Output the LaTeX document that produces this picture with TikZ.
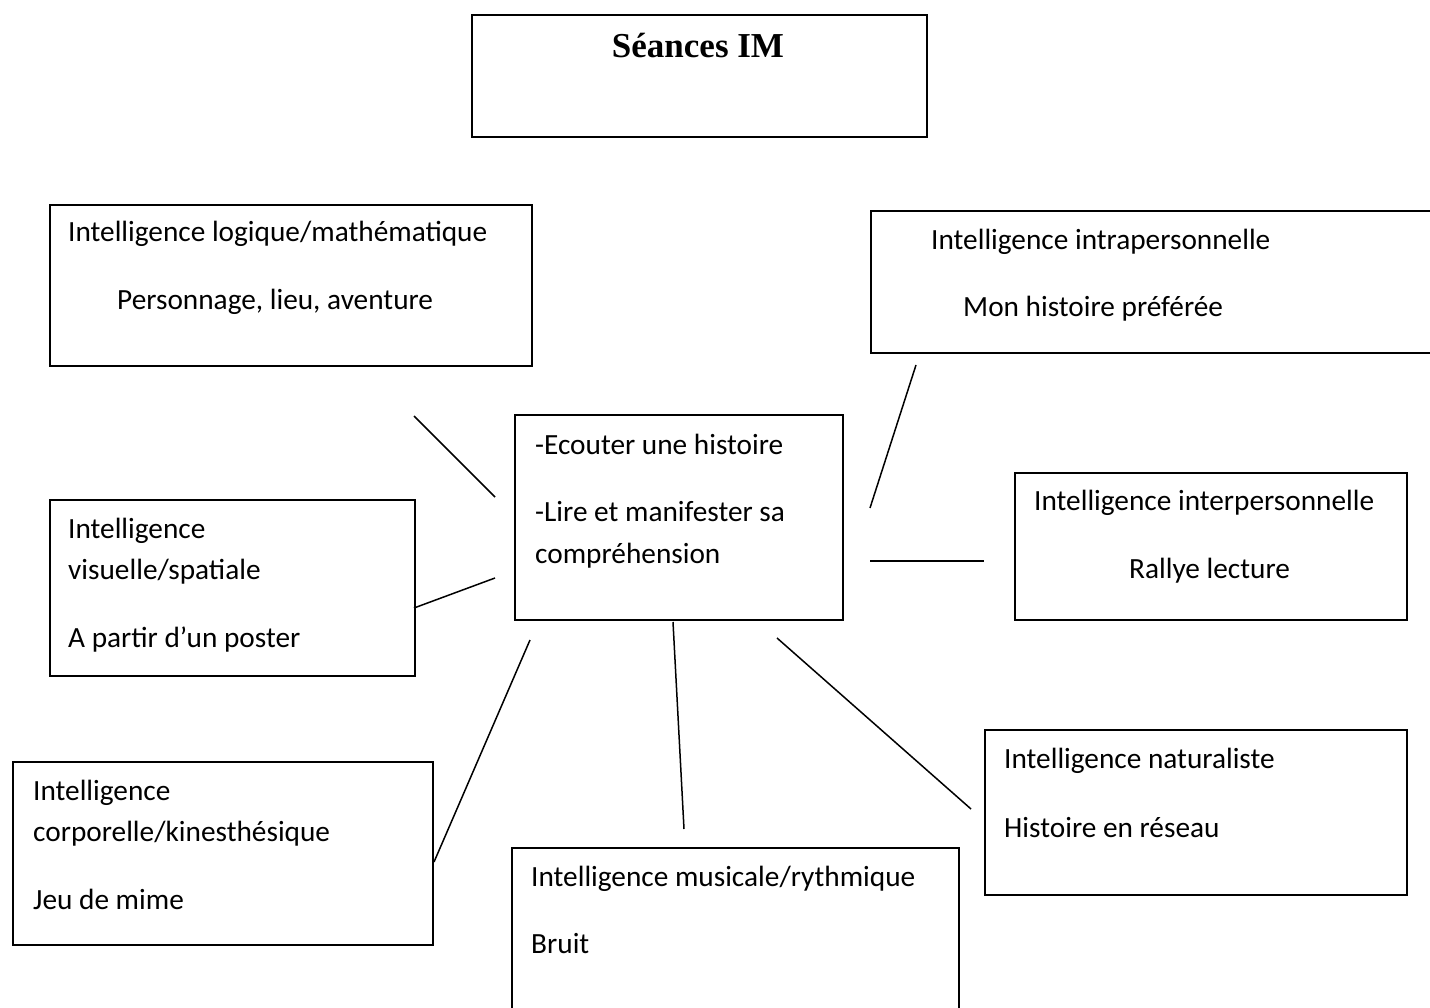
\documentclass[tikz,border=0pt]{standalone}
\usepackage{fontspec}
\setmainfont{Carlito}
\newfontfamily\titlefont{Liberation Serif}
\begin{document}
\begin{tikzpicture}[x=1pt,y=-1pt,
  box/.style={draw=black,line width=1.6pt,rectangle,inner sep=0pt,anchor=north west},
  txt/.style={inner sep=0pt,anchor=base west,font=\fontsize{29.3}{35}\selectfont},
  link/.style={draw=black,line width=1.5pt}]
\useasboundingbox (0,0) rectangle (1430,1008);
\clip (0,0) rectangle (1430,1008);
\fill[white] (0,0) rectangle (1430,1008);
% title
\node[box,minimum width=455,minimum height=122] (title) at (471,14) {};
\node[inner sep=0pt,anchor=base,font=\titlefont\bfseries\fontsize{35}{42}\selectfont] (titletxt) at (698,58) {Séances IM};
% logique
\node[box,minimum width=482,minimum height=161] (logique) at (49,204) {};
\node[txt] (logique1) at (68,242) {Intelligence logique/mathématique};
\node[txt] (logique2) at (117,310) {Personnage, lieu, aventure};
% intrapersonnelle
\node[box,minimum width=580,minimum height=142] (intra) at (870,210) {};
\node[txt] (intra1) at (931,250) {Intelligence intrapersonnelle};
\node[txt] (intra2) at (963,317) {Mon histoire préférée};
% center
\node[box,minimum width=328,minimum height=205] (center) at (514,414) {};
\node[txt] (center1) at (535,454) {-Ecouter une histoire};
\node[txt] (center2) at (535,521) {-Lire et manifester sa};
\node[txt] (center3) at (535,563) {compréhension};
% visuelle
\node[box,minimum width=365,minimum height=176] (visuelle) at (49,499) {};
\node[txt] (visuelle1) at (68,538) {Intelligence};
\node[txt] (visuelle2) at (68,579) {visuelle/spatiale};
\node[txt] (visuelle3) at (68,647) {A partir d’un poster};
% interpersonnelle
\node[box,minimum width=392,minimum height=147] (inter) at (1014,472) {};
\node[txt] (inter1) at (1034,510) {Intelligence interpersonnelle};
\node[txt] (inter2) at (1129,578) {Rallye lecture};
% corporelle
\node[box,minimum width=420,minimum height=183] (corpo) at (12,761) {};
\node[txt] (corpo1) at (33,800) {Intelligence};
\node[txt] (corpo2) at (33,841) {corporelle/kinesthésique};
\node[txt] (corpo3) at (33,909) {Jeu de mime};
% musicale
\node[box,minimum width=447,minimum height=200] (musique) at (511,847) {};
\node[txt] (musique1) at (531,886) {Intelligence musicale/rythmique};
\node[txt] (musique2) at (531,953) {Bruit};
% naturaliste
\node[box,minimum width=422,minimum height=165] (natur) at (984,729) {};
\node[txt] (natur1) at (1004,768) {Intelligence naturaliste};
\node[txt] (natur2) at (1004,837) {Histoire en réseau};
% connector ends
\coordinate (l1a) at (414,416); \coordinate (l1b) at (495,497);
\coordinate (l2a) at (414,608); \coordinate (l2b) at (495,578);
\coordinate (l3a) at (434,862); \coordinate (l3b) at (530,640);
\coordinate (l4a) at (673,622); \coordinate (l4b) at (684,829);
\coordinate (l5a) at (777,638); \coordinate (l5b) at (971,809);
\coordinate (l6a) at (870,508); \coordinate (l6b) at (916,365);
\coordinate (l7a) at (870,561); \coordinate (l7b) at (984,561);
\draw[link] (l1a) -- (l1b);
\draw[link] (l2a) -- (l2b);
\draw[link] (l3a) -- (l3b);
\draw[link] (l4a) -- (l4b);
\draw[link] (l5a) -- (l5b);
\draw[link] (l6a) -- (l6b);
\draw[link] (l7a) -- (l7b);
\end{tikzpicture}
\end{document}
